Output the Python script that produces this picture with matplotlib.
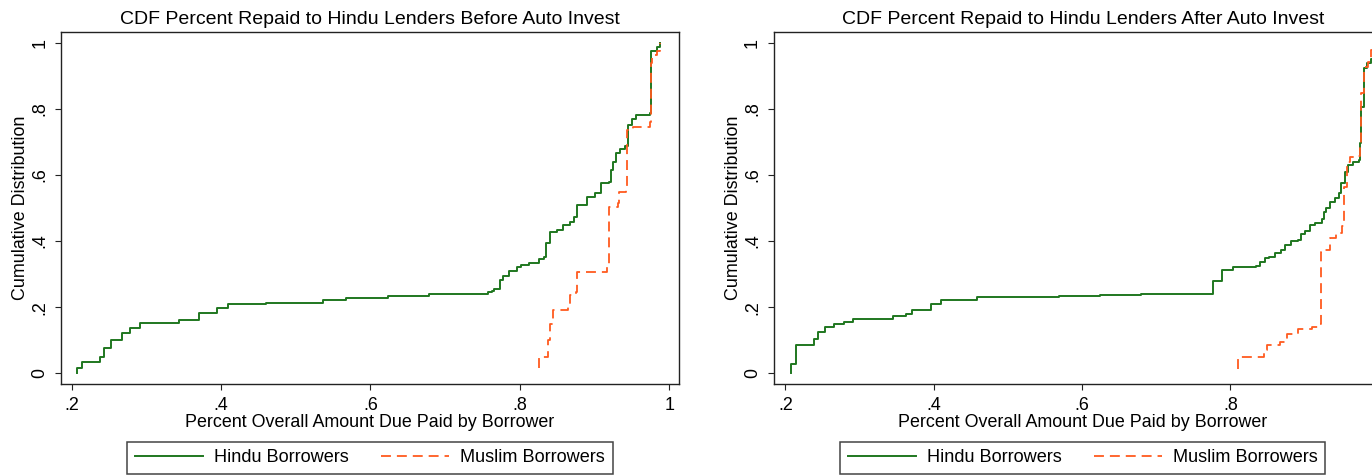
import matplotlib
matplotlib.use("Agg")
import matplotlib.pyplot as plt

plt.rcParams['font.family'] = ['Liberation Sans', 'DejaVu Sans']

# tick values / labels shared by both panels
xticks = [0.2, 0.4, 0.6, 0.8, 1.0]
xticklabels = ['.2', '.4', '.6', '.8', '1']
yticks = [0, 0.2, 0.4, 0.6, 0.8, 1.0]
yticklabels = ['0', '.2', '.4', '.6', '.8', '1']

titles = ['CDF Percent Repaid to Hindu Lenders Before Auto Invest',
          'CDF Percent Repaid to Hindu Lenders After Auto Invest']
xlabel = 'Percent Overall Amount Due Paid by Borrower'
ylabel = 'Cumulative Distribution'
series_names = ['Hindu Borrowers', 'Muslim Borrowers']

# before auto invest - hindu borrowers (step points)
hb_x = [0.208, 0.208, 0.214, 0.238, 0.244, 0.253, 0.267, 0.278, 0.291, 0.344,
        0.371, 0.395, 0.410, 0.460, 0.536, 0.568, 0.624, 0.679, 0.757, 0.763,
        0.766, 0.774, 0.778, 0.785, 0.796, 0.802, 0.812, 0.825, 0.832, 0.835,
        0.841, 0.850, 0.858, 0.867, 0.873, 0.877, 0.890, 0.901, 0.908, 0.919,
        0.922, 0.925, 0.929, 0.934, 0.941, 0.945, 0.950, 0.955, 0.974, 0.975,
        0.976, 0.983, 0.988]
hb_y = [0.002, 0.017, 0.035, 0.050, 0.077, 0.102, 0.123, 0.137, 0.153, 0.161,
        0.181, 0.196, 0.211, 0.214, 0.221, 0.229, 0.233, 0.241, 0.245, 0.250,
        0.256, 0.283, 0.294, 0.310, 0.320, 0.328, 0.335, 0.345, 0.353, 0.393,
        0.428, 0.433, 0.449, 0.459, 0.474, 0.509, 0.534, 0.544, 0.577, 0.580,
        0.615, 0.640, 0.665, 0.678, 0.686, 0.751, 0.768, 0.780, 0.786, 0.887,
        0.976, 0.986, 1.000]

# before auto invest - muslim borrowers
mb_x = [0.826, 0.826, 0.838, 0.840, 0.845, 0.864, 0.867, 0.875, 0.876, 0.917,
        0.919, 0.932, 0.933, 0.942, 0.944, 0.952, 0.974, 0.975, 0.977, 0.984,
        0.988]
mb_y = [0.015, 0.050, 0.100, 0.150, 0.190, 0.202, 0.237, 0.247, 0.307, 0.321,
        0.504, 0.516, 0.549, 0.560, 0.736, 0.746, 0.761, 0.938, 0.963, 0.976,
        1.000]

# after auto invest - hindu borrowers
ha_x = [0.208, 0.208, 0.214, 0.238, 0.244, 0.253, 0.266, 0.279, 0.291, 0.345,
        0.363, 0.371, 0.396, 0.410, 0.459, 0.569, 0.624, 0.680, 0.777, 0.789,
        0.804, 0.835, 0.840, 0.847, 0.852, 0.860, 0.869, 0.874, 0.882, 0.892,
        0.895, 0.901, 0.907, 0.914, 0.924, 0.926, 0.929, 0.934, 0.941, 0.946,
        0.950, 0.955, 0.959, 0.966, 0.974, 0.975, 0.977, 0.981, 0.984, 0.990,
        0.994]
ha_y = [0.002, 0.027, 0.086, 0.104, 0.125, 0.141, 0.148, 0.156, 0.164, 0.173,
        0.178, 0.191, 0.209, 0.222, 0.230, 0.233, 0.236, 0.239, 0.280, 0.312,
        0.320, 0.325, 0.338, 0.348, 0.353, 0.365, 0.373, 0.388, 0.400, 0.403,
        0.421, 0.430, 0.449, 0.456, 0.466, 0.489, 0.499, 0.519, 0.529, 0.544,
        0.575, 0.610, 0.630, 0.640, 0.645, 0.696, 0.806, 0.923, 0.938, 0.950,
        1.000]

# after auto invest - muslim borrowers
ma_x = [0.810, 0.810, 0.815, 0.845, 0.849, 0.867, 0.876, 0.892, 0.910, 0.920,
        0.922, 0.928, 0.935, 0.943, 0.951, 0.954, 0.957, 0.961, 0.969, 0.975,
        0.977, 0.981, 0.986, 0.990, 0.994]
ma_y = [0.012, 0.045, 0.048, 0.070, 0.086, 0.096, 0.119, 0.133, 0.141, 0.149,
        0.368, 0.373, 0.408, 0.423, 0.444, 0.564, 0.640, 0.653, 0.657, 0.696,
        0.847, 0.927, 0.943, 0.978, 1.000]

green = '#1f771f'
orange = '#ff5a1f'
dark = '#222222'

fig = plt.figure(figsize=(13.72, 4.76), dpi=100)
fig.patch.set_facecolor('white')

# right panel runs off the figure edge like the reference crop
ax1 = fig.add_axes([0.0445, 0.1927, 0.4504, 0.7408])
ax2 = fig.add_axes([0.5641, 0.1927, 0.4504, 0.7408])

panels = [(ax1, hb_x, hb_y, mb_x, mb_y, titles[0], (0.186, 1.013)),
          (ax2, ha_x, ha_y, ma_x, ma_y, titles[1], (0.1845, 1.018))]

for ax, hx, hy, mx, my, title, xlim in panels:
    ax.plot(hx, hy, drawstyle='steps-post', color=green, lw=1.4,
            label=series_names[0])
    ax.plot(mx, my, drawstyle='steps-post', color=orange, lw=1.3,
            linestyle=(0, (5.5, 3.3)), label=series_names[1])

    ax.set_xlim(*xlim)
    ax.set_ylim(-0.0333, 1.0333)
    ax.set_xticks(xticks)
    ax.set_xticklabels(xticklabels)
    ax.set_yticks(yticks)
    ax.set_yticklabels(yticklabels, rotation=90, va='center')

    ax.tick_params(direction='out', length=4.3, width=0.8, color=dark,
                   labelsize=12.9, pad=5)
    for s in ax.spines.values():
        s.set_color(dark)
        s.set_linewidth(1.0)

    ax.set_title(title, fontsize=14, pad=5.5)
    ax.set_xlabel(xlabel, fontsize=12.9)
    ax.set_ylabel(ylabel, fontsize=12.9)
    ax.xaxis.set_label_coords(0.5, -0.084)
    ax.yaxis.set_label_coords(-0.052, 0.5)

    leg = ax.legend(loc='center', bbox_to_anchor=(0.5, -0.209), ncol=2,
                    fontsize=13.1, frameon=True, fancybox=False,
                    edgecolor='#444444', framealpha=1, handlelength=3.75,
                    handletextpad=0.6, columnspacing=1.76, borderpad=0.42,
                    borderaxespad=0)
    leg.get_frame().set_linewidth(1.1)

# the "1" label of the right panel lies past the figure edge in the reference
ax2.get_xticklabels()[-1].set_visible(False)

plt.savefig('out.png', dpi=100, facecolor='white')
